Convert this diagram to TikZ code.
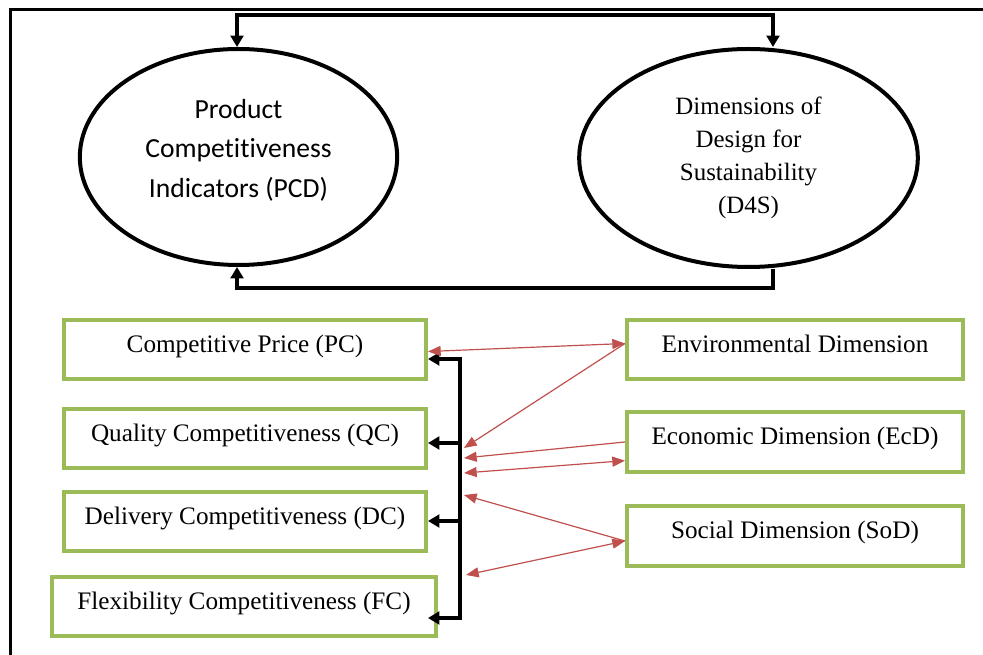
\documentclass[tikz,border=0pt]{standalone}
\usepackage{fontspec}
\setmainfont{Liberation Serif}
\newfontfamily\calibri[Ligatures=NoCommon]{Carlito}
\usetikzlibrary{shapes.geometric,arrows.meta}
\definecolor{boxgreen}{HTML}{9BBB59}
\definecolor{linkred}{HTML}{C0504D}

\begin{document}
\begin{tikzpicture}[
	x=0.75pt, y=-0.75pt,
	box/.style={ draw=boxgreen, line width=3pt, minimum width=271.5pt, minimum height=44.25pt, inner sep=0pt, text height=0.7em, text depth=0.3em, font=\fontsize{18.9}{22}\selectfont },
	ell/.style={ ellipse, draw, line width=3pt, inner sep=0pt, align=center },
	bus/.style={ line width=3pt, line join=miter },
	bustip/.style={ -{Triangle[length=8.5pt,width=9.5pt]} },
	busboth/.style={ {Triangle[length=8.5pt,width=9.5pt]}-{Triangle[length=8.5pt,width=9.5pt]} },
	link/.style={ draw=linkred, line width=0.9pt, -{Triangle[length=9.5pt,width=7.5pt]} },
	linkboth/.style={ link, {Triangle[length=9.5pt,width=7.5pt]}-{Triangle[length=9.5pt,width=7.5pt]} }
]

\useasboundingbox (0,0) rectangle (983,655);
\clip (0,0) rectangle (983,655);
\draw[line width=2.25pt] (10,10) rectangle (1000,670);

\node at (238.5,157) (PCD) [ell, minimum width=238pt, minimum height=162pt] {};
\node at (238.5,150) (PCDtext) [align=center, font=\calibri\fontsize{20.7}{29.6}\selectfont]
  {Product\\Competitiveness\\Indicators (PCD)};
\node at (748.5,158) (D4S) [ell, minimum width=254pt, minimum height=163.5pt,
  font=\fontsize{18.7}{24.8}\selectfont] {Dimensions of\\Design for\\Sustainability\\(D4S)};

\node at (245,349.5) (PC) [box] {Competitive Price (PC)};
\node at (245,438.5) (QC) [box] {Quality Competitiveness (QC)};
\node at (245,522) (DC) [box] {Delivery Competitiveness (DC)};
\node at (244,606.5) (FC) [box, minimum width=288pt] {Flexibility Competitiveness (FC)};
\node at (795,349.5) (EnvD) [box, minimum width=252pt] {Environmental Dimension};
\node at (795,442) (EcD) [box, minimum width=252pt, minimum height=45pt] {Economic Dimension (EcD)};
\node at (795,536) (SoD) [box, minimum width=252pt, minimum height=45pt] {Social Dimension (SoD)};

% feedback loop between the two ellipses
\coordinate (loopTL) at (237,15);
\coordinate (loopTR) at (773,15);
\coordinate (loopBL) at (237,288);
\coordinate (loopBR) at (773,288);
\draw[bus, busboth]
  (loopTL |- PCD.north) -- (loopTL) -- (loopTR) -- (loopTR |- D4S.north);
\draw[bus, bustip]
  (loopBR |- D4S.south) -- (loopBR) -- (loopBL) -- (loopBL |- PCD.south);

% bus feeding the competitiveness boxes
\coordinate (busPC) at (460,359);
\coordinate (busQC) at (460,443);
\coordinate (busDC) at (460,521);
\coordinate (busFC) at (460,618);
\draw[bus, busboth]
  (busPC -| PC.east) -- (busPC) -- (busFC) -- (busFC -| PC.east);
\foreach \name in {QC,DC}
  \draw[bus, bustip] (bus\name) -- (bus\name -| PC.east);

\coordinate (tipA) at (464,448);
\coordinate (tipB) at (464,458);
\coordinate (tipC) at (464,473);
\coordinate (tipD) at (464,495);
\coordinate (tipE) at (466,575);
\draw[linkboth] ([yshift=-1.5pt]PC.east) -- ([yshift=4.5pt]EnvD.west);
\draw[link] ([yshift=4.5pt]EnvD.west) -- (tipA);
\draw[link] (EcD.west) -- (tipB);
\draw[linkboth] (tipC) -- ([yshift=-14pt]EcD.west);
\draw[link] ([yshift=-3.75pt]SoD.west) -- (tipD);
\draw[linkboth] (tipE) -- ([yshift=-3.75pt]SoD.west);

\end{tikzpicture}
\end{document}
